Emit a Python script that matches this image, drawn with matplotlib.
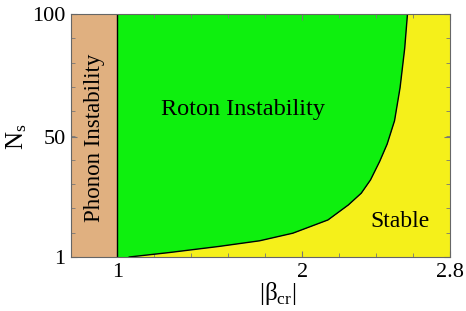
import matplotlib
matplotlib.use('Agg')
import matplotlib.pyplot as plt
import numpy as np

plt.rcParams['font.family'] = ['Liberation Serif', 'DejaVu Serif']
plt.rcParams['mathtext.fontset'] = 'custom'
plt.rcParams['mathtext.rm'] = 'Liberation Serif'

# boundary between roton instability and stable region
beta_cr = [1.065, 1.28, 1.55, 1.77, 1.95, 2.14, 2.25, 2.32, 2.37, 2.42, 2.46, 2.50, 2.53, 2.555, 2.57]
n_s = [1, 2.8, 5.3, 7.6, 10.7, 16.1, 22.2, 27.0, 32.4, 40, 47, 56.5, 70, 86, 100]

x_min, x_phonon, x_max = 0.75, 1.0, 2.8
y_min, y_max = 1, 100
x_ticks = [1, 2, 2.8]
x_ticklabels = ['1', '2', '2.8']
y_ticks = [1, 50, 100]

tan = '#E0B080'
green = '#0EF00E'
yellow = '#F5F01A'

fig = plt.figure(figsize=(4.66, 3.11), dpi=100)
ax = fig.add_axes([71/466, 54/311, 379/466, 243/311])

ax.fill_betweenx([y_min, y_max], x_min, x_phonon, color=tan, lw=0)
ax.fill_betweenx(n_s, x_phonon, beta_cr, color=green, lw=0)
ax.fill_betweenx(n_s, beta_cr, x_max, color=yellow, lw=0)
ax.plot(beta_cr, n_s, color='black', lw=1)
ax.axvline(x_phonon, color='black', lw=1)

ax.set_xlim(x_min, x_max)
ax.set_ylim(y_min, y_max)

ax.set_xticks(x_ticks)
ax.set_xticklabels(x_ticklabels)
ax.set_xticks(np.arange(1.2, 2.7, 0.2), minor=True)
ax.set_yticks(y_ticks)
ax.set_yticks(np.linspace(1, 100, 11), minor=True)
ax.tick_params(which='both', direction='in', top=True, right=True,
               color='#777777', labelsize=16, pad=4)
ax.tick_params(which='major', length=4)
ax.tick_params(which='minor', length=3)
for sp in ax.spines.values():
    sp.set_color('#666666')

ax.text(1.68, 61, 'Roton Instability', fontsize=17.5, ha='center', va='center')
ax.text(2.53, 15.5, 'Stable', fontsize=17, ha='center', va='center')
ax.text(0.875, 49.5, 'Phonon Instability', fontsize=16.5, rotation=90,
        ha='center', va='center')

ax.set_xlabel('|β$_{\\mathrm{cr}}$|', fontsize=18)
ax.xaxis.set_label_coords(0.546, -0.095)
ax.set_ylabel(r'$\mathrm{N_s}$', fontsize=18)
ax.yaxis.set_label_coords(-0.11, 0.494)

fig.savefig('out.png', dpi=100)
